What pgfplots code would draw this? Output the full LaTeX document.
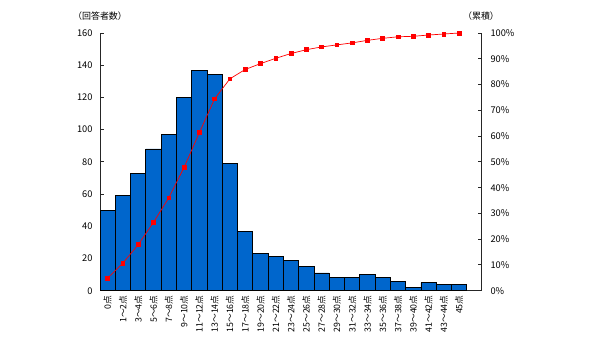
\documentclass[border=0pt]{standalone}
\usepackage{pgfplots}
\pgfplotsset{compat=1.18}
\usepackage{fontspec}
\setmainfont{Noto Sans CJK JP}
\definecolor{barblue}{RGB}{0,102,204}
\begin{document}
\begin{tikzpicture}
\pgfplotsset{
  common/.style={
    scale only axis, width=381bp, height=257.7bp,
    xmin=-0.5, xmax=24.43,
    axis line style={-, line width=1bp, draw=black!85},
    tick align=inside, major tick length=3.5bp,
    tick style={line width=0.9bp, black!85},
    /pgf/number format/assume math mode=true,
    tick label style={font=\fontsize{9.3}{10}\selectfont},
  }
}
\begin{axis}[common,
  ymin=0, ymax=160,
  axis x line*=bottom, axis y line*=left,
  ybar, bar width=1,
  ytick={0,20,...,160},
  xtick={0,...,23},
  xticklabels={0点,1〜2点,3〜4点,5〜6点,7〜8点,9〜10点,11〜12点,13〜14点,15〜16点,17〜18点,19〜20点,21〜22点,23〜24点,25〜26点,27〜28点,29〜30点,31〜32点,33〜34点,35〜36点,37〜38点,39〜40点,41〜42点,43〜44点,45点},
  xtick style={draw=none},
  xticklabel style={rotate=90, anchor=east, inner sep=1bp, font=\fontsize{8.8}{10}\selectfont},
  yticklabel style={xshift=-4bp},
]
\addplot[fill=barblue, draw=black, line width=0.8bp] coordinates {
(0,50) (1,59) (2,73) (3,88) (4,97) (5,120) (6,137) (7,134) (8,79) (9,37) (10,23) (11,21) (12,19) (13,15) (14,11) (15,8) (16,8) (17,10) (18,8) (19,6) (20,2) (21,5) (22,4) (23,4)
};
\end{axis}
\begin{axis}[common,
  ymin=0, ymax=100,
  axis y line*=right, axis x line=none,
  ytick={0,10,...,100},
  yticklabel={\pgfmathprintnumber{\tick}\%},
  yticklabel style={xshift=6bp},
]
\addplot[red, line width=0.7bp, mark=square*, mark size=1.9bp, mark options={fill=red, draw=red}] coordinates {
(0,4.91) (1,10.71) (2,17.88) (3,26.52) (4,36.05) (5,47.84) (6,61.30) (7,74.46) (8,82.22) (9,85.85) (10,88.11) (11,90.18) (12,92.04) (13,93.52) (14,94.60) (15,95.38) (16,96.17) (17,97.15) (18,97.94) (19,98.53) (20,98.72) (21,99.21) (22,99.61) (23,100)
};
\end{axis}
\node[anchor=base, font=\fontsize{9}{10}\selectfont] at ([yshift=13bp]current axis.north west) {（回答者数）};
\node[anchor=base, font=\fontsize{9}{10}\selectfont] at ([yshift=13bp]current axis.north east) {（累積）};
\path (current axis.south west) ++(-100bp,-52.3bp) coordinate (A);
\path (current axis.north east) ++(119bp,33bp) coordinate (B);
\useasboundingbox (A) rectangle (B);
\end{tikzpicture}
\end{document}
